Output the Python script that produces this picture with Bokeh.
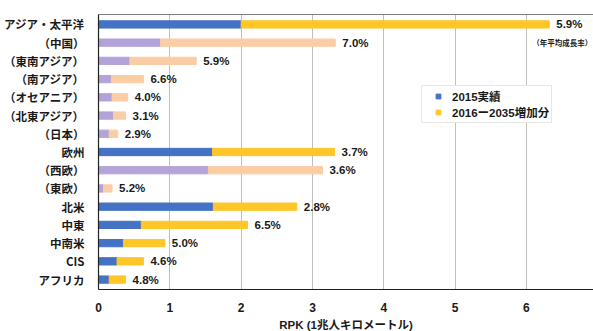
from bokeh.plotting import figure
from bokeh.models import (ColumnDataSource, FactorRange, Range1d, Legend, LegendItem,
                          LinearAxis, SingleIntervalTicker, FixedTicker)
from bokeh.core.properties import value
from bokeh.embed import file_html
from bokeh.resources import INLINE

# ---- data ----
categories = ["アジア・太平洋", "（中国）", "（東南アジア）", "（南アジア）", "（オセアニア）",
              "（北東アジア）", "（日本）", "欧州", "（西欧）", "（東欧）",
              "北米", "中東", "中南米", "CIS", "アフリカ"]
rpk_2015 = [2.00, 0.87, 0.44, 0.18, 0.19, 0.21, 0.15, 1.60, 1.54, 0.07,
            1.61, 0.60, 0.35, 0.26, 0.15]
rpk_increase = [4.32, 2.45, 0.93, 0.45, 0.22, 0.17, 0.12, 1.71, 1.60, 0.12,
                1.17, 1.49, 0.58, 0.37, 0.23]
growth = ["5.9%", "7.0%", "5.9%", "6.6%", "4.0%", "3.1%", "2.9%", "3.7%", "3.6%", "5.2%",
          "2.8%", "6.5%", "5.0%", "4.6%", "4.8%"]
is_sub = [c.startswith("（") for c in categories]
legend_labels = ["2015実績", "2016ー2035増加分"]
x_title = "RPK (1兆人キロメートル)"
note = "（年平均成長率）"

# ---- colours ----
BLUE, YELLOW = "#4472C4", "#FFC629"
PURPLE, PEACH = "#B4A3D8", "#FBCDA5"

totals = [b + i for b, i in zip(rpk_2015, rpk_increase)]
main_idx = [k for k in range(len(categories)) if not is_sub[k]]
sub_idx = [k for k in range(len(categories)) if is_sub[k]]

def src(idx):
    return ColumnDataSource(dict(
        cat=[categories[k] for k in idx],
        base=[rpk_2015[k] for k in idx],
        total=[totals[k] for k in idx],
    ))

main_src, sub_src = src(main_idx), src(sub_idx)
lab_src = ColumnDataSource(dict(cat=categories, total=totals, txt=growth))

p = figure(frame_width=495, frame_height=275, output_backend="svg", toolbar_location=None,
           y_range=FactorRange(factors=list(reversed(categories)), range_padding=0.006),
           x_range=Range1d(0, 6.94),
           min_border_left=98, min_border_right=0, min_border_top=14, min_border_bottom=0)
p.outline_line_color = None
p.background_fill_color = "white"

H = 0.4
p.hbar(y="cat", left=0, right="base", height=H, source=main_src, color=BLUE)
p.hbar(y="cat", left="base", right="total", height=H, source=main_src, color=YELLOW)
p.hbar(y="cat", left=0, right="base", height=H, source=sub_src, color=PURPLE)
p.hbar(y="cat", left="base", right="total", height=H, source=sub_src, color=PEACH)

NUMFONT = "Liberation Sans"
JPFONT = "Noto Sans CJK JP"

p.text(x="total", y="cat", text="txt", source=lab_src, x_offset=7,
       text_baseline="middle", text_align="left", text_font=value(NUMFONT),
       text_font_style="bold", text_font_size="11.5px", text_color="#1a1a1a")

p.text(x=[totals[0]], y=[categories[0]], text=[note], x_offset=13, y_offset=18,
       text_baseline="middle", text_align="center", text_font=value(JPFONT),
       text_font_style="bold", text_font_size="7.5px", text_color="#1a1a1a")

# legend with small square markers (hidden proxy renderers)
r1 = p.scatter(x=[rpk_2015[0]], y=[categories[0]], marker="square", size=5, color=BLUE,
               visible=False)
r2 = p.scatter(x=[totals[0]], y=[categories[0]], marker="square", size=5, color=YELLOW,
               visible=False)
leg = Legend(items=[LegendItem(label=legend_labels[0], renderers=[r1]),
                    LegendItem(label=legend_labels[1], renderers=[r2])],
             location=(323, 166), padding=2, spacing=0, glyph_width=28, glyph_height=12,
             label_height=12, label_standoff=-8, margin=0,
             label_text_font=NUMFONT + ", " + JPFONT, label_text_font_style="bold",
             label_text_font_size="11.5px", label_text_color="#1a1a1a",
             border_line_color="#D0D0D0", border_line_width=1,
             background_fill_color="white", background_fill_alpha=1)
p.add_layout(leg)

# axes
ticker = SingleIntervalTicker(interval=1)
xa = p.xaxis[0]
xa.ticker = ticker
xa.axis_line_color = "#222222"
xa.axis_line_width = 1.2
xa.major_tick_line_color = None
xa.minor_tick_line_color = None
xa.major_label_standoff = 7
xa.major_label_text_font = NUMFONT
xa.major_label_text_font_style = "bold"
xa.major_label_text_font_size = "12px"
xa.major_label_text_color = "#1a1a1a"
xa.axis_label = x_title
xa.axis_label_standoff = 4
xa.axis_label_text_font = NUMFONT + ", " + JPFONT
xa.axis_label_text_font_style = "bold"
xa.axis_label_text_font_size = "11.5px"
xa.axis_label_text_color = "#1a1a1a"

ya = p.yaxis[0]
ya.axis_line_color = "#222222"
ya.axis_line_width = 1.2
ya.major_tick_line_color = None
ya.minor_tick_line_color = None
ya.major_label_standoff = 8
ya.major_label_text_font = JPFONT
ya.major_label_text_font_style = "bold"
ya.major_label_text_font_size = "11.5px"
ya.major_label_text_color = "#1a1a1a"

top = LinearAxis(ticker=FixedTicker(ticks=[]), axis_line_color="#7F7F7F",
                 major_tick_line_color=None, minor_tick_line_color=None,
                 major_label_standoff=0)
p.add_layout(top, "above")

p.xgrid.ticker = ticker
p.xgrid.grid_line_color = "#BFBFBF"
p.xgrid.grid_line_width = 1
p.ygrid.grid_line_color = None

open("out.html", "w").write(file_html(p, INLINE))
